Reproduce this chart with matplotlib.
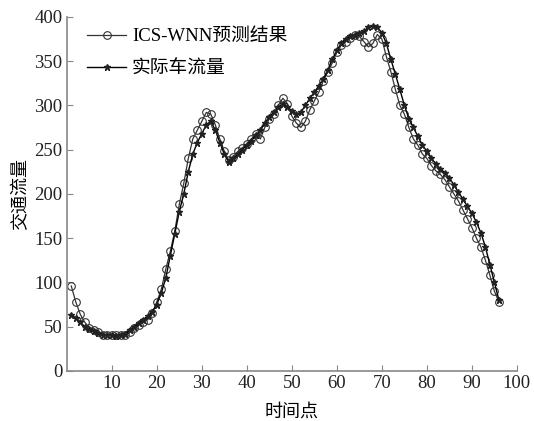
import numpy as np
import matplotlib
matplotlib.use('Agg')
import matplotlib.pyplot as plt

plt.rcParams['font.family'] = ['Liberation Serif', 'Noto Sans CJK SC']

# 时间点 1..96
time_points = np.arange(1, 97)

# ICS-WNN 预测结果
predicted = [96, 78, 64, 55, 49, 46, 44, 41, 40, 40,
             40, 40, 41, 44, 48, 52, 55, 58, 65, 78,
             92, 115, 135, 158, 188, 212, 240, 262, 272, 282,
             292, 290, 278, 262, 248, 238, 242, 248, 252, 256,
             262, 268, 262, 275, 285, 290, 300, 308, 302, 288,
             280, 275, 282, 295, 305, 315, 328, 338, 348, 360,
             368, 372, 376, 380, 378, 372, 366, 370, 380, 375,
             355, 338, 318, 300, 290, 275, 262, 255, 245, 240,
             232, 226, 222, 216, 208, 200, 192, 182, 172, 162,
             150, 140, 125, 108, 90, 78]

# 实际车流量
actual = [63, 60, 55, 50, 47, 45, 43, 41, 40, 40,
          39, 40, 42, 46, 50, 54, 58, 62, 67, 75,
          88, 105, 130, 155, 180, 200, 225, 245, 258, 268,
          278, 282, 272, 258, 245, 236, 240, 245, 250, 255,
          260, 266, 272, 280, 287, 292, 298, 302, 298, 294,
          290, 292, 300, 308, 315, 322, 330, 340, 352, 362,
          370, 375, 378, 380, 382, 384, 388, 390, 388, 382,
          370, 352, 335, 318, 300, 285, 275, 265, 255, 248,
          240, 234, 228, 224, 218, 210, 202, 194, 186, 178,
          168, 156, 140, 120, 100, 80]

xticks = [10, 20, 30, 40, 50, 60, 70, 80, 90, 100]
yticks = [0, 50, 100, 150, 200, 250, 300, 350, 400]

fig = plt.figure(figsize=(5.34, 4.21), dpi=100)
ax = fig.add_axes([0.125, 0.119, 0.843, 0.841])

ax.plot(time_points, predicted, color='#333333', lw=0.9, marker='o',
        markersize=5.5, markerfacecolor='none', markeredgecolor='#333333',
        markeredgewidth=0.8, label='ICS-WNN预测结果')
ax.plot(time_points, actual, color='black', lw=1.0, marker='*',
        markersize=5, markerfacecolor='#222222', markeredgecolor='#222222',
        label='实际车流量')

ax.set_xlim(0, 100)
ax.set_ylim(0, 400)
ax.set_xticks(xticks)
ax.set_yticks(yticks)

for s in ['top', 'right']:
    ax.spines[s].set_visible(False)
for s in ['left', 'bottom']:
    ax.spines[s].set_color('#888888')
    ax.spines[s].set_linewidth(1.2)
ax.tick_params(direction='in', length=4, color='#888888', labelsize=13.5,
               labelcolor='#222222', pad=3)

ax.set_xlabel('时间点', fontsize=13, labelpad=8)
ax.set_ylabel('交通流量', fontsize=13, labelpad=4)

ax.legend(loc='upper left', frameon=False, fontsize=13.5, handlelength=2.1,
          handletextpad=0.3, borderaxespad=0.2, labelspacing=0.8,
          bbox_to_anchor=(0.02, 1.0))

fig.savefig('out.png', dpi=100)
